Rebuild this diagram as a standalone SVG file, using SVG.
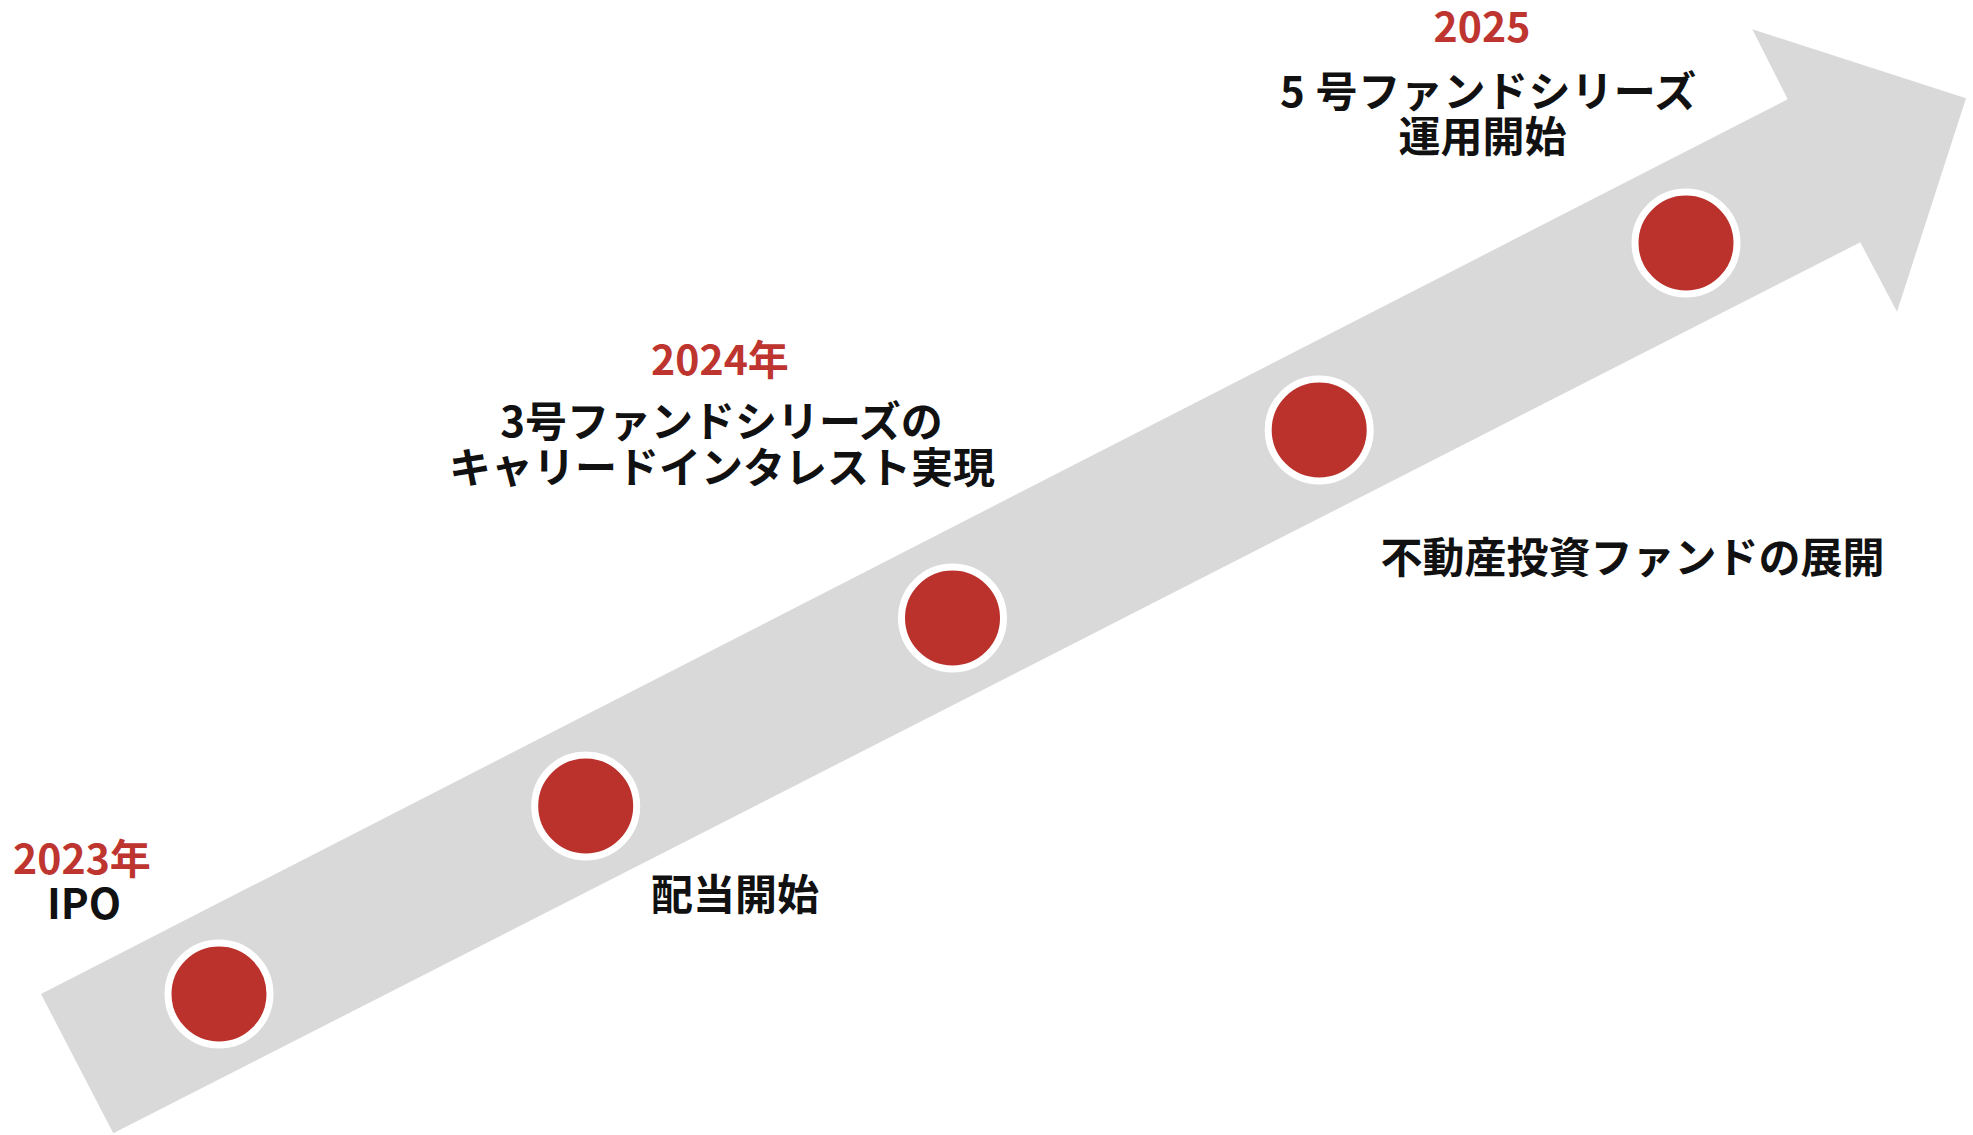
<svg xmlns="http://www.w3.org/2000/svg" width="1973" height="1135" viewBox="0 0 1973 1135">
<style>
.t{font-family:"Noto Sans CJK JP","Noto Sans",sans-serif;font-weight:700;text-anchor:middle}
.y{fill:#BE3530;font-size:41px}
.b{fill:#111111;font-size:42px}
.dot{fill:#BB322D;stroke:#FFFFFF;stroke-width:7}
</style>
<rect width="1973" height="1135" fill="#FFFFFF"/>
<g id="connectors">
<polygon id="arrow" points="41,994 1787.7,99.3 1752.3,29.3 1966,98.3 1897,311.7 1860.3,242.3 113.3,1133.3" fill="#D9D9D9"/>
</g>
<g id="node-2023">
<circle class="dot" cx="219" cy="994" r="51"/>
<text class="t y" x="82" y="874">2023年</text>
<text class="t b" x="84" y="919">IPO</text>
</g>
<g id="node-dividend">
<circle class="dot" cx="585.7" cy="806" r="51"/>
<text class="t b" x="735" y="910">配当開始</text>
</g>
<g id="node-2024">
<circle class="dot" cx="952.5" cy="618" r="51"/>
<text class="t y" x="720" y="375">2024年</text>
<text class="t b" x="721.5" y="437">3号ファンドシリーズの</text>
<text class="t b" x="722" y="483">キャリードインタレスト実現</text>
</g>
<g id="node-realestate">
<circle class="dot" cx="1319.2" cy="430" r="51"/>
<text class="t b" x="1632.5" y="573">不動産投資ファンドの展開</text>
</g>
<g id="node-2025">
<circle class="dot" cx="1686" cy="243" r="51"/>
<text class="t y" x="1482" y="42">2025</text>
<text class="t b" x="1488.5" y="107" style="letter-spacing:0.6px">5 号ファンドシリーズ</text>
<text class="t b" x="1482.5" y="152">運用開始</text>
</g>
</svg>
